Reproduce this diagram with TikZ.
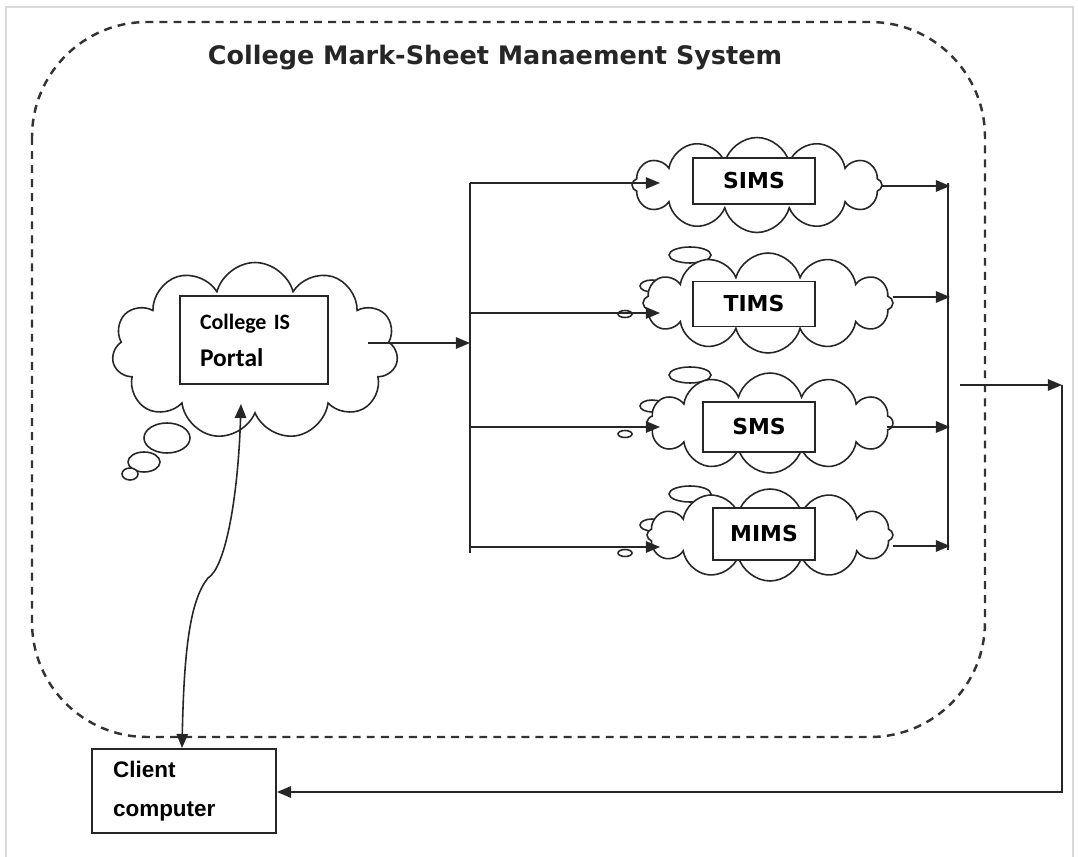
\documentclass[tikz,border=0pt]{standalone}
\usepackage{fontspec}
\usepackage{tikz}
\usetikzlibrary{shapes.symbols,arrows.meta,positioning}
\newfontfamily\verdana{DejaVu Sans}
\newfontfamily\calib{Carlito}
\newfontfamily\arial{Liberation Sans}

\tikzset{
	puff/.style={cloud, cloud puffs=12, cloud ignores aspect, draw=black!85, fill=white, line width=0.9pt, inner sep=0pt},
	bubble/.style={draw=black!85, fill=white, line width=0.9pt},
	sysbox/.style={draw=black!85, fill=white, line width=1.1pt, inner sep=0pt, font=\verdana\bfseries\fontsize{12.5}{15}\selectfont},
	txtbox/.style={draw=black!85, fill=white, line width=1.1pt, align=left, anchor=center},
	arr/.style={-{Triangle[length=8pt,width=6.5pt]}, line width=0.9pt, draw=black!85},
}

\begin{document}
\begin{tikzpicture}[x=0.02cm, y=-0.02cm]
	\useasboundingbox (0,0) rectangle (1078,857);
	\draw[black!15, line width=0.6pt] (6,857) -- (6,7) -- (1073,7) -- (1073,857);

	\draw[black!80, line width=1.4pt, dash pattern=on 4.5pt off 3.5pt, rounded corners=2.3cm] (32,22) rectangle (985,737);
	\node (title) at (495,58) {\verdana\bfseries\fontsize{14.5}{17}\selectfont\color{black!85}College Mark-Sheet Manaement System};

	\draw[bubble] (167,438) ellipse [x radius=23, y radius=15];
	\draw[bubble] (144,462) ellipse [x radius=16, y radius=10];
	\draw[bubble] (130,474) ellipse [x radius=8, y radius=6];
	\node[puff, cloud puffs=11, minimum width=5.72cm, minimum height=3.54cm] (portalcloud) at (255,351) {};
	\node[txtbox, minimum width=2.96cm, minimum height=1.76cm, text width=2.16cm, inner xsep=0.4cm,
		font=\calib\bfseries\fontsize{12.5}{15}\selectfont] (portal) at (254,340)
		{College IS\\[6pt]{\fontsize{14.5}{15}\selectfont Portal}};

	\foreach \by in {0,120,239}{
		\draw[bubble] (690,375+\by-120) ellipse [x radius=21, y radius=8];
		\draw[bubble] (652,406+\by-120) ellipse [x radius=12, y radius=6];
		\draw[bubble] (625,434+\by-120) ellipse [x radius=7, y radius=3.5];
	}
	\node[puff, minimum width=5.0cm, minimum height=1.9cm] (simscloud) at (757,185) {};
	\node[puff, minimum width=5.0cm, minimum height=2.0cm] (timscloud) at (768,303) {};
	\node[puff, minimum width=4.92cm, minimum height=2.0cm] (smscloud) at (770,423) {};
	\node[puff, minimum width=4.92cm, minimum height=1.84cm] (mimscloud) at (770,535) {};

	\node[sysbox, minimum width=2.44cm, minimum height=0.92cm] (sims) at (754,181) {SIMS};
	\node[sysbox, minimum width=2.44cm, minimum height=0.9cm] (tims) at (754,304) {TIMS};
	\node[sysbox, minimum width=2.24cm, minimum height=1.0cm] (sms) at (759,427) {SMS};
	\node[sysbox, minimum width=2.04cm, minimum height=1.04cm] (mims) at (764,534) {MIMS};

	\node[txtbox, minimum width=3.66cm, minimum height=1.68cm, text width=2.84cm, inner xsep=0.42cm,
		font=\arial\bfseries\fontsize{12.8}{15}\selectfont] (client) at (184,791)
		{Client\\[7pt]computer};

	\coordinate (pout) at (368,343);
	\coordinate (split) at (470,343);
	\draw[arr] (pout) -- (split);
	\draw[line width=0.9pt, black!85] (470,183) -- (470,553);
	\foreach \y in {183,313,427,547}
		\draw[arr] (470,\y) -- (660,\y);

	\foreach \x/\y in {882/186,893/297,887/427,893/546}
		\draw[arr] (\x,\y) -- (950,\y);
	\draw[line width=0.9pt, black!85] (948,183) -- (948,550);

	\coordinate (merge) at (960,385);
	\coordinate (ret) at (1062,385);
	\draw[arr] (merge) -- (ret);
	\draw[arr] (ret) -- (1062,792) -- (client.east |- 0,792);

	\coordinate (pin) at (241,404);
	\draw[{Triangle[length=8pt,width=6.5pt]}-{Triangle[length=8pt,width=6.5pt]}, line width=0.9pt, black!85]
		(client.north -| 182,0) .. controls (184,650) and (190,600) .. (208,578)
		.. controls (225,568) and (238,500) .. (pin);
\end{tikzpicture}
\end{document}
